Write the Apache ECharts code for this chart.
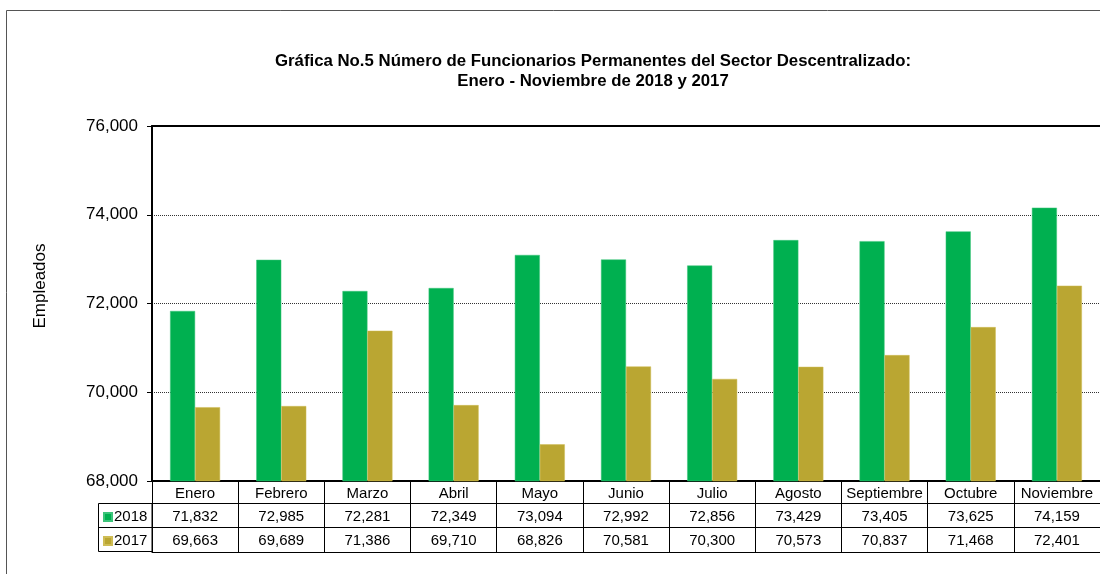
<!DOCTYPE html>
<html>
<head>
<meta charset="utf-8">
<title>Funcionarios Permanentes</title>
<script src="https://cdn.jsdelivr.net/npm/echarts@6/dist/echarts.min.js"></script>
<style>
  html, body { margin: 0; padding: 0; background: #fff; }
  #chart { width: 1100px; height: 574px; }
</style>
</head>
<body>
<div id="chart"></div>
<script>
const meses = ['Enero', 'Febrero', 'Marzo', 'Abril', 'Mayo', 'Junio', 'Julio', 'Agosto', 'Septiembre', 'Octubre', 'Noviembre'];
const valores2018 = [71832, 72985, 72281, 72349, 73094, 72992, 72856, 73429, 73405, 73625, 74159];
const valores2017 = [69663, 69689, 71386, 69710, 68826, 70581, 70300, 70573, 70837, 71468, 72401];
const yTicks = [68000, 70000, 72000, 74000, 76000];

const verde = '#00B050';
const dorado = '#BAA632';
const fuente = '"Liberation Sans", Arial, sans-serif';

function fmt(n) {
    return String(n).replace(/\B(?=(\d{3})+(?!\d))/g, ',');
}

const chart = echarts.init(document.getElementById('chart'));

// extra category axes used as rows of the data table
function filaTabla(offset, valores) {
    return {
        type: 'category',
        data: meses,
        position: 'bottom',
        offset: offset,
        axisLine: { show: true, lineStyle: { color: '#000', width: 1 } },
        axisTick: { show: false },
        axisLabel: {
            show: !!valores,
            interval: 0,
            margin: 6,
            color: '#000',
            fontSize: 15,
            fontFamily: fuente,
            formatter: function (v, i) { return valores ? fmt(valores[i]) : ''; }
        },
        splitLine: { show: false }
    };
}

chart.setOption({
    animation: false,
    backgroundColor: '#fff',
    textStyle: { fontFamily: fuente },
    title: {
        text: 'Gráfica No.5 Número de Funcionarios Permanentes del Sector Descentralizado:\nEnero - Noviembre de 2018 y 2017',
        left: 593,
        top: 51,
        padding: 0,
        textAlign: 'center',
        textStyle: {
            color: '#000',
            fontSize: 16.8,
            fontWeight: 'bold',
            fontFamily: fuente,
            lineHeight: 20
        }
    },
    legend: {
        orient: 'vertical',
        left: 103,
        top: 509,
        padding: 0,
        itemWidth: 8,
        itemHeight: 8,
        itemGap: 8,
        icon: 'rect',
        textStyle: { color: '#000', fontSize: 15, fontFamily: fuente, lineHeight: 16, padding: [0, 0, 0, -3] },
        data: ['2018', '2017']
    },
    grid: {
        left: 152,
        top: 126,
        width: 951.5,
        height: 355,
        containLabel: false
    },
    xAxis: [
        {
            type: 'category',
            data: meses,
            position: 'bottom',
            axisLine: { show: true, lineStyle: { color: '#000', width: 2 } },
            axisTick: { show: true, interval: 0, length: 71, lineStyle: { color: '#000', width: 1 } },
            axisLabel: { interval: 0, margin: 5, color: '#000', fontSize: 15, fontFamily: fuente },
            splitLine: { show: false }
        },
        filaTabla(22, valores2018),
        filaTabla(46, valores2017),
        filaTabla(71, null),
        {
            type: 'category',
            data: meses,
            position: 'top',
            axisLine: { show: true, lineStyle: { color: '#000', width: 2 } },
            axisTick: { show: false },
            axisLabel: { show: false }
        }
    ],
    yAxis: {
        type: 'value',
        min: yTicks[0],
        max: yTicks[yTicks.length - 1],
        interval: 2000,
        axisLine: { show: true, lineStyle: { color: '#000', width: 2 } },
        axisTick: { show: true, inside: false, length: 5, lineStyle: { color: '#000' } },
        axisLabel: {
            color: '#000',
            fontSize: 17,
            fontFamily: fuente,
            margin: 14,
            formatter: function (v) { return fmt(v); }
        },
        splitLine: { show: true, lineStyle: { color: '#333', type: 'dotted', width: 1 } }
    },
    series: [
        {
            name: '2018',
            type: 'bar',
            data: valores2018,
            barWidth: 25,
            barGap: '0%',
            itemStyle: { color: verde, borderColor: '#3cc47a', borderWidth: 0.5 }
        },
        {
            name: '2017',
            type: 'bar',
            data: valores2017,
            barWidth: 25,
            barGap: '0%',
            itemStyle: { color: dorado, borderColor: '#cfbd55', borderWidth: 0.5 }
        }
    ],
    graphic: [
        // outer chart frame (left and top edges visible)
        {
            type: 'polyline',
            shape: { points: [[6.5, 600], [6.5, 10.5], [1200, 10.5]] },
            style: { stroke: '#555', lineWidth: 1, fill: null },
            silent: true
        },
        // y axis title
        {
            type: 'text',
            x: 40,
            y: 286,
            rotation: Math.PI / 2,
            style: {
                text: 'Empleados',
                fill: '#000',
                fontSize: 17,
                fontFamily: fuente,
                align: 'center',
                verticalAlign: 'middle'
            },
            silent: true
        },
        // legend cell of the data table
        {
            type: 'rect',
            shape: { x: 98.5, y: 503.5, width: 53.5, height: 48 },
            style: { stroke: '#000', lineWidth: 1, fill: null },
            silent: true
        },
        {
            type: 'line',
            shape: { x1: 98.5, y1: 527.5, x2: 152, y2: 527.5 },
            style: { stroke: '#000', lineWidth: 1 },
            silent: true
        }
    ]
});
</script>
</body>
</html>
